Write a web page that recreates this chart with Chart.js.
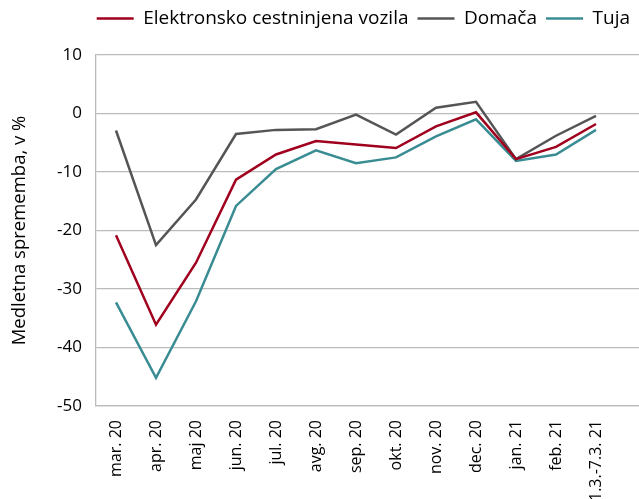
<!DOCTYPE html>
<html>
<head>
<meta charset="utf-8">
<script src="https://cdn.jsdelivr.net/npm/chart.js@4/dist/chart.umd.min.js"></script>
<style>
  html, body { margin: 0; padding: 0; background: #fff; overflow: hidden; }
  #wrap { width: 639px; height: 499px; }
</style>
</head>
<body>
<div id="wrap"><canvas id="chart" width="639" height="499"></canvas></div>
<script>
// ===============================
// DATA
// ===============================
const labels = ["mar. 20", "apr. 20", "maj 20", "jun. 20", "jul. 20", "avg. 20", "sep. 20",
  "okt. 20", "nov. 20", "dec. 20", "jan. 21", "feb. 21", "1.3.-7.3. 21"];

const elektronsko = [-20.8, -36.1, -25.5, -11.3, -7.0, -4.7, -5.3, -5.9, -2.2, 0.2, -7.8, -5.7, -1.8];
const domaca = [-2.9, -22.5, -14.7, -3.5, -2.8, -2.7, -0.2, -3.6, 1.0, 2.0, -7.8, -3.8, -0.4];
const tuja = [-32.3, -45.2, -32.1, -15.8, -9.5, -6.3, -8.5, -7.5, -3.9, -1.0, -8.1, -7.0, -2.8];

const yTicks = [10, 0, -10, -20, -30, -40, -50];

const FONT = "'Open Sans', sans-serif";

function toPoints(arr) {
  return arr.map((v, i) => ({ x: i, y: v }));
}

function lineSet(label, data, color) {
  return {
    label: label,
    data: toPoints(data),
    borderColor: color,
    backgroundColor: color,
    borderWidth: 2.5,
    pointRadius: 0,
    tension: 0
  };
}

// legend box height fixed so the plot starts where it does in the original
const legendHeight = {
  id: "legendHeight",
  beforeInit(chart) {
    const fit = chart.legend.fit;
    chart.legend.fit = function () {
      fit.bind(chart.legend)();
      this.height = 55;
    };
  }
};

// ===============================
// CHART
// ===============================
const ctx = document.getElementById("chart").getContext("2d");

new Chart(ctx, {
  type: "line",
  data: {
    datasets: [
      lineSet("Elektronsko cestninjena vozila", elektronsko, "#a0001e"),
      lineSet("Domača", domaca, "#555555"),
      lineSet("Tuja", tuja, "#3a8c93")
    ]
  },
  plugins: [legendHeight],
  options: {
    responsive: false,
    animation: false,
    layout: { padding: 0 },
    plugins: {
      tooltip: { enabled: false },
      legend: {
        position: "top",
        align: "end",
        labels: {
          usePointStyle: true,
          pointStyle: "line",
          pointStyleWidth: 37,
          padding: 9,
          color: "#000",
          font: { family: FONT, size: 19 }
        }
      }
    },
    scales: {
      x: {
        type: "linear",
        min: -0.5,
        max: 13.075,
        afterBuildTicks: (scale) => {
          scale.ticks = labels.map((_, i) => ({ value: i }));
        },
        afterFit: (scale) => { scale.height = 93; },
        grid: { display: false },
        border: { display: true, color: "#bbbbbb", width: 1.3 },
        ticks: {
          autoSkip: false,
          maxRotation: 90,
          minRotation: 90,
          padding: 6,
          color: "#000",
          font: { family: FONT, size: 16 },
          callback: (v) => labels[v]
        }
      },
      y: {
        min: -50,
        max: 10,
        afterBuildTicks: (scale) => {
          scale.ticks = yTicks.map(v => ({ value: v }));
        },
        afterFit: (scale) => { scale.width = 96; },
        grid: { color: "#bbbbbb", lineWidth: 1.3, drawTicks: false },
        border: { display: true, color: "#bbbbbb", width: 1.3 },
        ticks: {
          padding: 14,
          color: "#000",
          font: { family: FONT, size: 17 }
        },
        title: {
          display: true,
          text: "Medletna sprememba, v %",
          color: "#000",
          padding: { top: 9, bottom: 0 },
          font: { family: FONT, size: 18.5 }
        }
      }
    }
  }
});
</script>
</body>
</html>
